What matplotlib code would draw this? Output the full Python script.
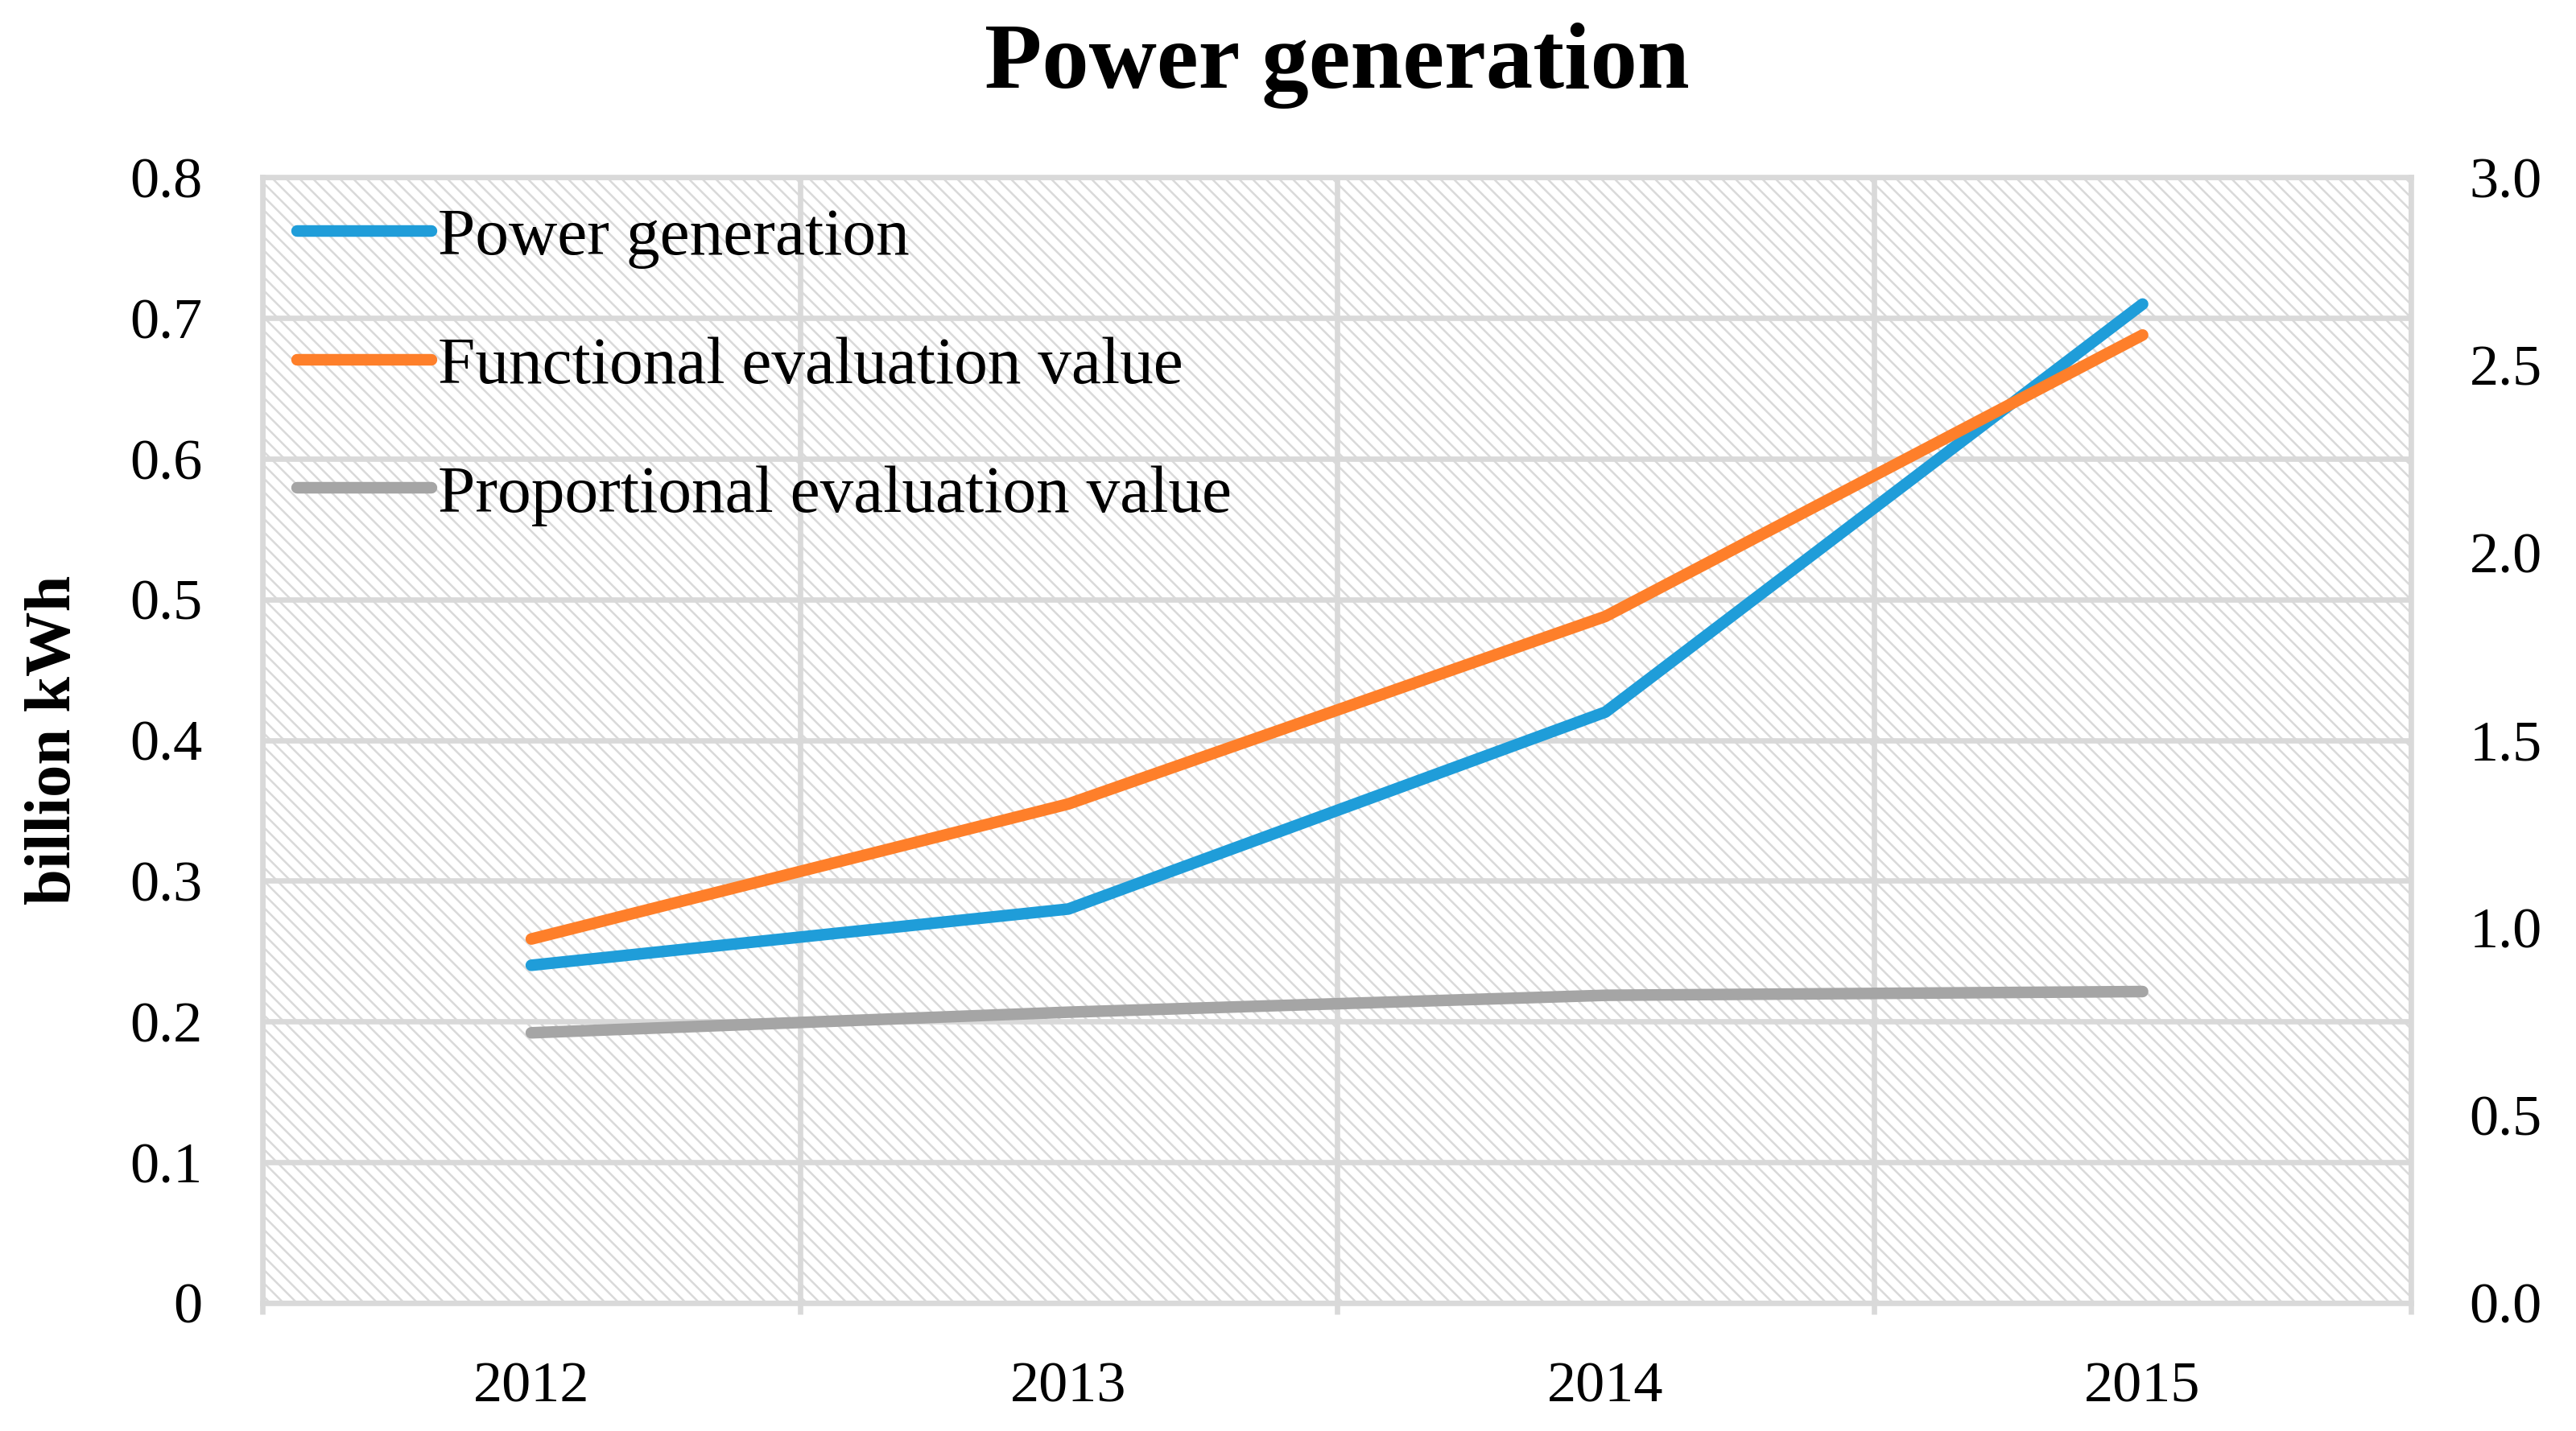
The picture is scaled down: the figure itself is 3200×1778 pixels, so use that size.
import matplotlib
matplotlib.use('Agg')
import matplotlib.pyplot as plt

years = ['2012', '2013', '2014', '2015']
power = [0.24, 0.28, 0.42, 0.71]
functional = [0.97, 1.33, 1.83, 2.58]
proportional = [0.72, 0.775, 0.82, 0.83]

left_ticks = [0, 0.1, 0.2, 0.3, 0.4, 0.5, 0.6, 0.7, 0.8]
left_labels = ['0', '0.1', '0.2', '0.3', '0.4', '0.5', '0.6', '0.7', '0.8']
right_ticks = [0, 0.5, 1.0, 1.5, 2.0, 2.5, 3.0]
right_labels = ['0.0', '0.5', '1.0', '1.5', '2.0', '2.5', '3.0']

grid_c = '#d9d9d9'
plt.rcParams['font.family'] = ['Liberation Serif', 'DejaVu Serif']
plt.rcParams['hatch.color'] = grid_c
plt.rcParams['hatch.linewidth'] = 0.9

fig = plt.figure(figsize=(16, 8.89), dpi=200)
ax = fig.add_axes([0.102, 0.0895, 0.834, 0.7865])
ax2 = ax.twinx()

x = list(range(1, len(years) + 1))

ax.patch.set_facecolor('white')
ax.patch.set_hatch('\\\\\\\\')
ax.patch.set_edgecolor(grid_c)
ax.patch.set_linewidth(0)

lw = 5.2
l1, = ax.plot(x, power, color='#1f9dd9', lw=lw, solid_capstyle='round',
              solid_joinstyle='round', label='Power generation', zorder=3)
l2, = ax2.plot(x, functional, color='#fe7f2a', lw=lw, solid_capstyle='round',
               solid_joinstyle='round', label='Functional evaluation value')
l3, = ax2.plot(x, proportional, color='#a5a5a5', lw=lw, solid_capstyle='round',
               solid_joinstyle='round', label='Proportional evaluation value')

ax.set_xlim(0.5, len(years) + 0.5)
ax.set_ylim(0, 0.8)
ax2.set_ylim(0, 3.0)

# category boundaries as major ticks, labels on minor ticks
ax.set_xticks([i + 0.5 for i in range(0, len(years) + 1)])
ax.set_xticklabels([])
ax.set_xticks(x, minor=True)
ax.set_xticklabels(years, minor=True, fontsize=26)
ax.tick_params(axis='x', which='major', length=5, width=2.4, color=grid_c)
ax.tick_params(axis='x', which='minor', length=0, pad=26)

ax.set_yticks(left_ticks)
ax.set_yticklabels(left_labels, fontsize=26)
ax.tick_params(axis='y', length=0, pad=27)
ax2.set_yticks(right_ticks)
ax2.set_yticklabels(right_labels, fontsize=26)
ax2.tick_params(axis='y', length=0, pad=26)

ax.grid(True, which='major', color=grid_c, lw=2.4)
ax.set_axisbelow(True)
for s in ax.spines.values():
    s.set_color(grid_c)
    s.set_linewidth(2.4)
for s in ax2.spines.values():
    s.set_visible(False)

ax.set_title('Power generation', fontsize=42, fontweight='bold', pad=40)
fig.text(0.021, 0.483, 'billion kWh', rotation=90, fontsize=29,
         fontweight='bold', ha='center', va='center')

ax2.legend([l1, l2, l3], [l.get_label() for l in [l1, l2, l3]],
           loc='upper left', bbox_to_anchor=(0.002, 1), borderaxespad=0,
           borderpad=0.45, frameon=False, fontsize=30, handlelength=2.0,
           handletextpad=0.1, labelspacing=1.0)

fig.savefig('out.png', dpi=200)
